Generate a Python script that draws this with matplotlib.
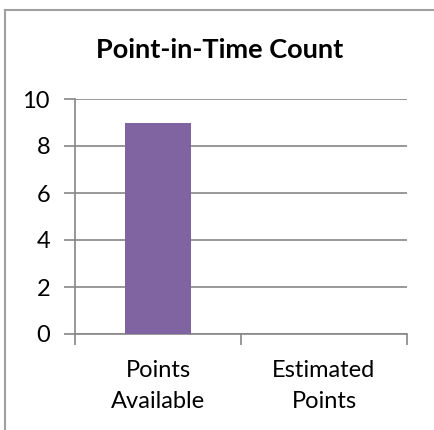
import matplotlib.pyplot as plt
from matplotlib.lines import Line2D

categories = ["Points\nAvailable", "Estimated\nPoints"]
counts = [9, 0]
y_ticks = [0, 2, 4, 6, 8, 10]
title = "Point-in-Time Count"

plt.rcParams['font.family'] = ['Lato', 'DejaVu Sans']

fig = plt.figure(figsize=(4.35, 4.3), dpi=100)
W, H = 435, 430

# outer chart border (only left and top visible, picture is cropped)
fig.add_artist(Line2D([5 / W, 5 / W], [0, 1 - 10 / H], transform=fig.transFigure,
                      color='#a0a0a0', lw=1.5))
fig.add_artist(Line2D([5 / W, 1], [1 - 10 / H, 1 - 10 / H], transform=fig.transFigure,
                      color='#a0a0a0', lw=1.5))

ax = fig.add_axes([75 / W, 1 - 334 / H, (407 - 75) / W, (334 - 99) / H])
x = range(len(categories))
ax.bar(x, counts, width=0.4, color='#8064A2', zorder=3)

ax.set_xlim(-0.5, len(categories) - 0.5)
ax.set_ylim(0, 10)
ax.set_yticks(y_ticks)
ax.yaxis.grid(True, color='#868686', lw=1.2, zorder=0)
ax.set_xticks([-0.5, 0.5, 1.5], minor=False)
ax.set_xticklabels([])
ax.set_xticks(list(x), minor=True)
ax.set_xticklabels(categories, minor=True, fontsize=17, linespacing=1.55)
ax.tick_params(axis='x', which='minor', length=0, pad=19)
ax.tick_params(axis='x', which='major', length=8, width=1.2, color='#868686', direction='out')
ax.tick_params(axis='y', length=8, width=1.2, color='#868686', labelsize=17, pad=10)

for s in ['top', 'right']:
    ax.spines[s].set_visible(False)
for s in ['left', 'bottom']:
    ax.spines[s].set_color('#868686')
    ax.spines[s].set_linewidth(1.2)

fig.text(220 / W, 1 - 50 / H, title, ha='center', va='center', fontsize=19.5,
         fontweight='bold')

fig.savefig('out.png', dpi=100)
